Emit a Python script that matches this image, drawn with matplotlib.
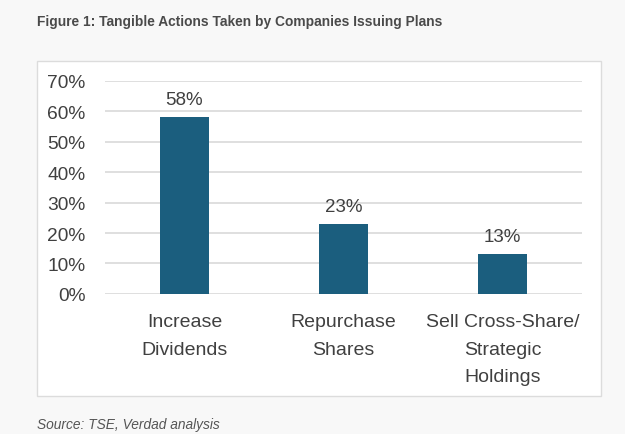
import matplotlib.pyplot as plt
from matplotlib.patches import Rectangle

categories = ["Increase\nDividends", "Repurchase\nShares", "Sell Cross-Share/\nStrategic\nHoldings"]
values = [58, 23, 13]
yticks = [0, 10, 20, 30, 40, 50, 60, 70]

bar_color = "#1b5e7e"
text_color = "#404040"

fig = plt.figure(figsize=(6.25, 4.35), dpi=100)
fig.patch.set_facecolor("#f8f8f8")

# white panel behind the chart
box = Rectangle((0.0592, 0.0874), 0.9024, 0.7701, transform=fig.transFigure,
                facecolor="white", edgecolor="#dcdcdc", linewidth=1.0, zorder=0)
fig.patches.append(box)

ax = fig.add_axes([0.168, 0.322, 0.763, 0.4897])
ax.set_facecolor("none")
ax.set_zorder(2)

x = range(len(categories))
ax.bar(x, values, width=0.31, color=bar_color, zorder=3)

for xi, v in zip(x, values):
    ax.text(xi, v + 3, f"{v}%", ha="center", va="bottom", fontsize=13.5,
            color=text_color, family="Liberation Sans")

ax.set_ylim(0, 70)
ax.set_xlim(-0.5, len(categories) - 0.5)
ax.set_yticks(yticks)
ax.set_yticklabels([f"{t}%" for t in yticks], fontsize=13.8, color=text_color,
                   family="Liberation Sans")
ax.set_xticks(list(x))
ax.set_xticklabels(categories, fontsize=14, color=text_color,
                   family="Liberation Sans")
for lbl in ax.get_xticklabels():
    lbl.set_linespacing(1.8)
ax.tick_params(axis="both", length=0)
ax.tick_params(axis="y", pad=14)
ax.tick_params(axis="x", pad=14)

ax.yaxis.grid(True, color="#d9d9d9", linewidth=1.2, zorder=0)
for s in ax.spines.values():
    s.set_visible(False)

fig.text(0.0592, 0.949, "Figure 1: Tangible Actions Taken by Companies Issuing Plans",
         fontsize=9.9, fontweight="bold", color="#4a4a4a", va="center",
         family="Liberation Sans")
fig.text(0.0592, 0.023, "Source: TSE, Verdad analysis", fontsize=9.9,
         style="italic", color="#555555", va="center", family="Liberation Sans")

fig.savefig("out.png", dpi=100, facecolor=fig.get_facecolor())
